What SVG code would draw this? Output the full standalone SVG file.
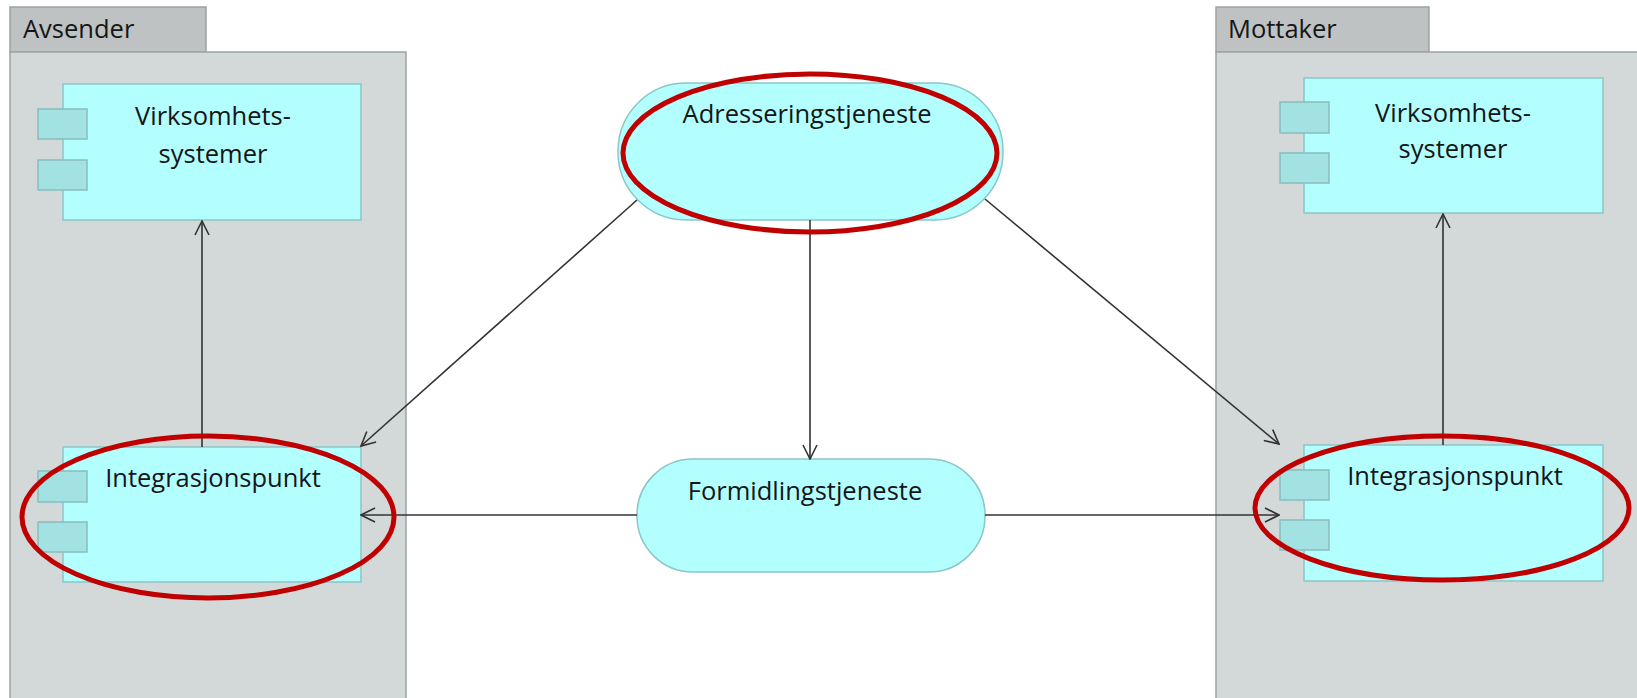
<svg xmlns="http://www.w3.org/2000/svg" width="1637" height="698" viewBox="0 0 1637 698">
<defs>
<style>
.pkgtab{fill:#bec2c3;stroke:#9ea2a3;stroke-width:1.5}
.pkg{fill:#d3d8d8;stroke:#9ea2a3;stroke-width:1.5}
.comp{fill:#b3ffff;stroke:#8cc6c6;stroke-width:1.5}
.port{fill:#a3e2e2;stroke:#88bdbd;stroke-width:1.5}
.svc{fill:#b3ffff;stroke:#8cc6c6;stroke-width:1.5}
.lbl{font-family:"Open Sans","Noto Sans","DejaVu Sans",sans-serif;font-size:25.5px;fill:#161616}
.mid{text-anchor:middle}
.hl{fill:none;stroke:#c00000;stroke-width:5}
.conn{fill:none;stroke:#333333;stroke-width:1.6}
</style>
<marker id="arr" viewBox="0 0 16 16" refX="15" refY="8" markerWidth="16" markerHeight="16" markerUnits="userSpaceOnUse" orient="auto">
<path d="M1,1 L15,8 L1,15" fill="none" stroke="#333333" stroke-width="1.6"/>
</marker>
</defs>
<rect width="1637" height="698" fill="#ffffff"/>

<g id="pkg-avsender">
<rect class="pkgtab" x="10" y="7" width="196" height="45"/>
<rect class="pkg" x="10" y="52" width="396" height="660"/>
<text class="lbl" x="23" y="38">Avsender</text>
</g>

<g id="pkg-mottaker">
<rect class="pkgtab" x="1216" y="7" width="213" height="45"/>
<rect class="pkg" x="1216" y="52" width="440" height="660"/>
<text class="lbl" x="1228" y="38">Mottaker</text>
</g>

<g id="avs-virksomhet">
<rect class="comp" x="63" y="84" width="298" height="136"/>
<rect class="port" x="38" y="109" width="49" height="30"/>
<rect class="port" x="38" y="160" width="49" height="30"/>
<text class="lbl mid" x="213" y="125">Virksomhets-</text>
<text class="lbl mid" x="213" y="163">systemer</text>
</g>

<g id="avs-integrasjon">
<rect class="comp" x="63" y="447" width="298" height="135"/>
<rect class="port" x="38" y="471" width="49" height="31"/>
<rect class="port" x="38" y="522" width="49" height="30"/>
<text class="lbl mid" x="213" y="487">Integrasjonspunkt</text>
</g>

<g id="mot-virksomhet">
<rect class="comp" x="1304" y="78" width="299" height="135"/>
<rect class="port" x="1280" y="102" width="49" height="31"/>
<rect class="port" x="1280" y="153" width="49" height="30"/>
<text class="lbl mid" x="1453" y="122">Virksomhets-</text>
<text class="lbl mid" x="1453" y="158">systemer</text>
</g>

<g id="mot-integrasjon">
<rect class="comp" x="1304" y="445" width="299" height="136"/>
<rect class="port" x="1280" y="470" width="49" height="30"/>
<rect class="port" x="1280" y="520" width="49" height="30"/>
<text class="lbl mid" x="1455" y="485">Integrasjonspunkt</text>
</g>

<g id="adresseringstjeneste">
<rect class="svc" x="618" y="83" width="385" height="137" rx="68" ry="68"/>
<text class="lbl mid" x="807" y="123">Adresseringstjeneste</text>
</g>

<g id="formidlingstjeneste">
<rect class="svc" x="637" y="459" width="348" height="113" rx="56" ry="56"/>
<text class="lbl mid" x="805" y="500">Formidlingstjeneste</text>
</g>

<g id="connectors">
<line class="conn" x1="202" y1="447" x2="202" y2="221" marker-end="url(#arr)"/>
<line class="conn" x1="1443" y1="445" x2="1443" y2="214" marker-end="url(#arr)"/>
<line class="conn" x1="810" y1="220" x2="810" y2="459" marker-end="url(#arr)"/>
<line class="conn" x1="637" y1="200" x2="361" y2="446" marker-end="url(#arr)"/>
<line class="conn" x1="985" y1="199" x2="1279" y2="444" marker-end="url(#arr)"/>
<line class="conn" x1="637" y1="515" x2="361" y2="515" marker-end="url(#arr)"/>
<line class="conn" x1="985" y1="515" x2="1279" y2="515" marker-end="url(#arr)"/>
</g>

<g id="highlights">
<ellipse class="hl" cx="810" cy="153" rx="187" ry="79"/>
<ellipse class="hl" cx="208" cy="517" rx="186" ry="81"/>
<ellipse class="hl" cx="1442" cy="508" rx="187" ry="72"/>
</g>
</svg>
